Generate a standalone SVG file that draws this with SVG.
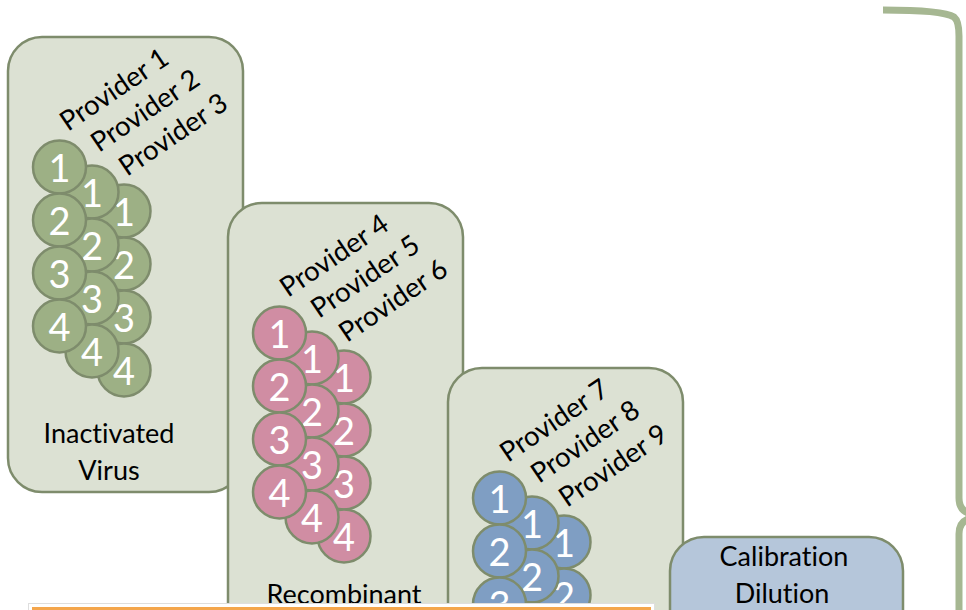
<svg xmlns="http://www.w3.org/2000/svg" width="966" height="610" viewBox="0 0 966 610">
<style>
text{font-variant-ligatures:none}
.box{fill:#dce1d3;stroke:#7e8c6c;stroke-width:2.5}
.cal{fill:#b5c6da;stroke:#7e8c6c;stroke-width:2.5}
.g{fill:#9db085;stroke:#7e8c6c;stroke-width:2.5}
.p{fill:#d08da3;stroke:#7e8c6c;stroke-width:2.5}
.b{fill:#7f9ec3;stroke:#7e8c6c;stroke-width:2.5}
.n{font-family:Lato,"Liberation Sans",sans-serif;font-size:38px;fill:#fff;text-anchor:middle}
.lbl{font-family:Lato,"Liberation Sans",sans-serif;font-size:27px;fill:#000}
.pv{font-family:Lato,"Liberation Sans",sans-serif;font-size:27.5px;fill:#000}
.c{text-anchor:middle}
.br{fill:none;stroke:#a6b792;stroke-width:7;stroke-linecap:butt}
</style>
<g id="box-inactivated">
<rect class="box" x="8" y="37" width="235" height="455" rx="34"/>
<g id="circles-1">
<circle class="g" cx="124" cy="211" r="26.5"/><text class="n" x="124" y="226">1</text>
<circle class="g" cx="124" cy="264" r="26.5"/><text class="n" x="124" y="279">2</text>
<circle class="g" cx="124" cy="317" r="26.5"/><text class="n" x="124" y="332">3</text>
<circle class="g" cx="124" cy="370" r="26.5"/><text class="n" x="124" y="385">4</text>
<circle class="g" cx="92" cy="192" r="26.5"/><text class="n" x="92" y="207">1</text>
<circle class="g" cx="92" cy="245" r="26.5"/><text class="n" x="92" y="260">2</text>
<circle class="g" cx="92" cy="298" r="26.5"/><text class="n" x="92" y="313">3</text>
<circle class="g" cx="92" cy="351" r="26.5"/><text class="n" x="92" y="366">4</text>
<circle class="g" cx="59.5" cy="167" r="26.5"/><text class="n" x="59.5" y="182">1</text>
<circle class="g" cx="59.5" cy="220" r="26.5"/><text class="n" x="59.5" y="235">2</text>
<circle class="g" cx="59.5" cy="273" r="26.5"/><text class="n" x="59.5" y="288">3</text>
<circle class="g" cx="59.5" cy="326" r="26.5"/><text class="n" x="59.5" y="341">4</text>
</g>
<text class="pv" x="68" y="132" transform="rotate(-34 68 132)">Provider 1</text>
<text class="pv" x="99" y="153" transform="rotate(-34 99 153)">Provider 2</text>
<text class="pv" x="127" y="177" transform="rotate(-34 127 177)">Provider 3</text>
<text class="lbl c" x="109" y="443">Inactivated</text>
<text class="lbl c" x="109" y="480">Virus</text>
</g>
<g id="box-recombinant">
<rect class="box" x="228" y="203" width="235" height="455" rx="34"/>
<g transform="translate(220,166)">
<circle class="p" cx="124" cy="211" r="26.5"/><text class="n" x="124" y="226">1</text>
<circle class="p" cx="124" cy="264" r="26.5"/><text class="n" x="124" y="279">2</text>
<circle class="p" cx="124" cy="317" r="26.5"/><text class="n" x="124" y="332">3</text>
<circle class="p" cx="124" cy="370" r="26.5"/><text class="n" x="124" y="385">4</text>
<circle class="p" cx="92" cy="192" r="26.5"/><text class="n" x="92" y="207">1</text>
<circle class="p" cx="92" cy="245" r="26.5"/><text class="n" x="92" y="260">2</text>
<circle class="p" cx="92" cy="298" r="26.5"/><text class="n" x="92" y="313">3</text>
<circle class="p" cx="92" cy="351" r="26.5"/><text class="n" x="92" y="366">4</text>
<circle class="p" cx="59.5" cy="167" r="26.5"/><text class="n" x="59.5" y="182">1</text>
<circle class="p" cx="59.5" cy="220" r="26.5"/><text class="n" x="59.5" y="235">2</text>
<circle class="p" cx="59.5" cy="273" r="26.5"/><text class="n" x="59.5" y="288">3</text>
<circle class="p" cx="59.5" cy="326" r="26.5"/><text class="n" x="59.5" y="341">4</text>
<text class="pv" x="68" y="132" transform="rotate(-34 68 132)">Provider 4</text>
<text class="pv" x="99" y="153" transform="rotate(-34 99 153)">Provider 5</text>
<text class="pv" x="127" y="177" transform="rotate(-34 127 177)">Provider 6</text>
</g>
<text class="lbl c" x="344" y="604">Recombinant</text>
</g>
<g id="box-third">
<rect class="box" x="448" y="368" width="235" height="455" rx="34"/>
<g transform="translate(440,331)">
<circle class="b" cx="124" cy="211" r="26.5"/><text class="n" x="124" y="226">1</text>
<circle class="b" cx="124" cy="264" r="26.5"/><text class="n" x="124" y="279">2</text>
<circle class="b" cx="124" cy="317" r="26.5"/><text class="n" x="124" y="332">3</text>
<circle class="b" cx="92" cy="192" r="26.5"/><text class="n" x="92" y="207">1</text>
<circle class="b" cx="92" cy="245" r="26.5"/><text class="n" x="92" y="260">2</text>
<circle class="b" cx="92" cy="298" r="26.5"/><text class="n" x="92" y="313">3</text>
<circle class="b" cx="59.5" cy="167" r="26.5"/><text class="n" x="59.5" y="182">1</text>
<circle class="b" cx="59.5" cy="220" r="26.5"/><text class="n" x="59.5" y="235">2</text>
<circle class="b" cx="59.5" cy="273" r="26.5"/><text class="n" x="59.5" y="288">3</text>
<text class="pv" x="68" y="132" transform="rotate(-34 68 132)">Provider 7</text>
<text class="pv" x="99" y="153" transform="rotate(-34 99 153)">Provider 8</text>
<text class="pv" x="127" y="177" transform="rotate(-34 127 177)">Provider 9</text>
</g>
</g>
<g id="box-calibration">
<rect class="cal" x="670" y="537" width="233" height="120" rx="34"/>
<text class="lbl c" x="784" y="566">Calibration</text>
<text class="lbl c" x="782" y="603">Dilution</text>
</g>
<g id="orange-bar">
<rect x="28.5" y="603.5" width="626" height="12" fill="none" stroke="#dedede" stroke-width="1"/>
<rect x="30.5" y="605.5" width="622" height="10" fill="#f4a64c" stroke="#fff" stroke-width="3"/>
</g>
<g id="connectors">
<path class="br" d="M883,10 C920,10 946,12 954,17 Q959,21 959,36 V498 Q959,511 971,514"/>
<path class="br" d="M971,518 Q959,521 959,534 V615"/>
</g>
</svg>
